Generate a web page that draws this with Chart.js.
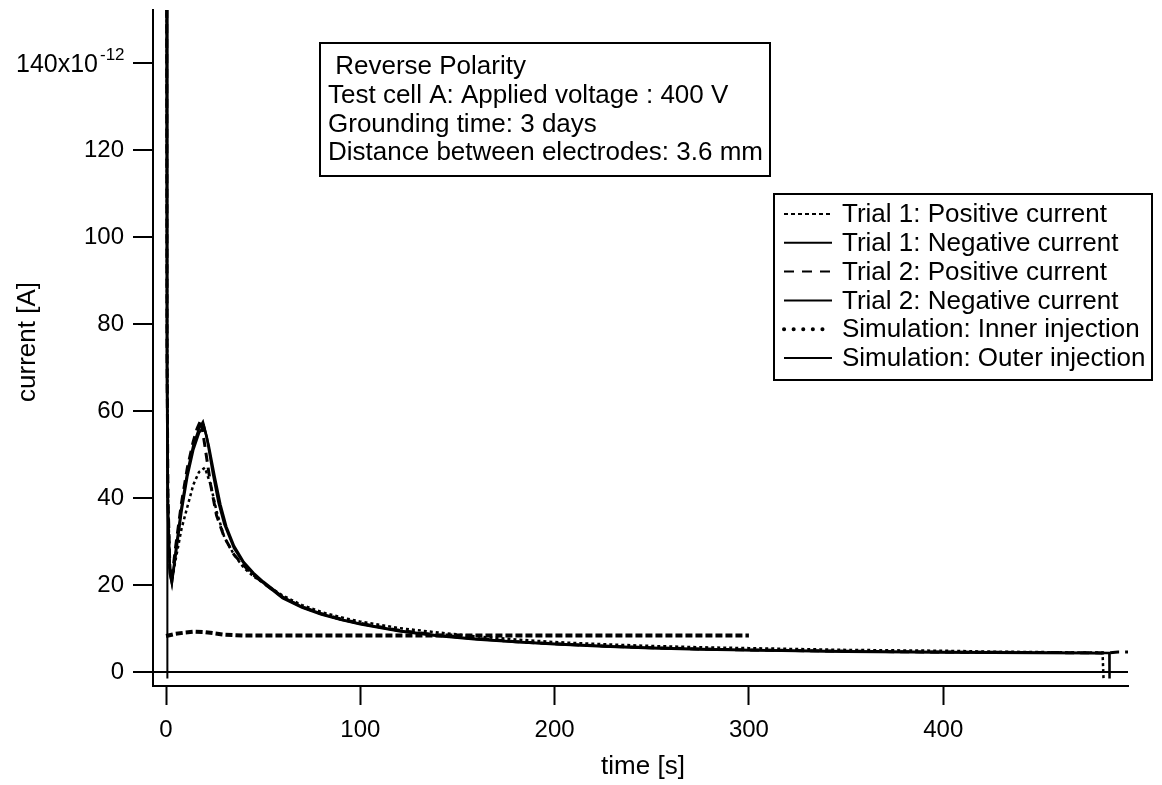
<!DOCTYPE html>
<html>
<head>
<meta charset="utf-8">
<script src="https://cdn.jsdelivr.net/npm/chart.js@4"></script>
<style>
  html, body { margin: 0; padding: 0; background: #fff; }
  #wrap { width: 1162px; height: 785px; }
</style>
</head>
<body>
<div id="wrap"><canvas id="chart"></canvas></div>
<script>
const fontFamily = '"Liberation Sans", Arial, sans-serif';

const xTicks = [0, 100, 200, 300, 400];
const yTicks = [0, 20, 40, 60, 80, 100, 120, 140];

const seriesLabels = [
  'Trial 1: Positive current',
  'Trial 1: Negative current',
  'Trial 2: Positive current',
  'Trial 2: Negative current',
  'Simulation: Inner injection',
  'Simulation: Outer injection'
];

const infoLines = [
  ' Reverse Polarity',
  'Test cell A: Applied voltage : 400 V',
  'Grounding time: 3 days',
  'Distance between electrodes: 3.6 mm'
];

// time in s, current in units of 1e-12 A
const trial1PosTime = [0, 0.5, 1, 2, 3, 5, 8, 11, 14, 17, 20, 23, 26, 30, 35, 40, 45, 50, 60, 70, 80, 90, 100, 120, 140, 160, 180, 200, 225, 250, 275, 300, 325, 350, 375, 400, 425, 450, 470, 482, 482.5];
const trial1PosCurrent = [350, 80, 40, 24, 21, 26, 33, 38, 43, 46, 47, 43, 37, 31, 27, 24, 22, 20.5, 17.6, 15.4, 13.8, 12.6, 11.6, 10.1, 9.1, 8.2, 7.5, 6.9, 6.4, 6.0, 5.7, 5.5, 5.3, 5.1, 5.0, 4.9, 4.7, 4.6, 4.5, 4.5, -1.5];

const trial1NegTime = [0, 0.5, 1, 2, 3, 5, 8, 11, 14, 17, 19, 21, 24, 27, 30, 35, 40, 45, 50, 60, 70, 80, 90, 100, 120, 140, 160, 180, 200, 225, 250, 275, 300, 350, 400, 450, 482];
const trial1NegCurrent = [400, 70, 38, 23, 20.5, 28, 38, 46, 52, 56, 57.5, 54, 46, 39, 34, 28.5, 25, 22.5, 20.5, 17, 14.8, 13.2, 12, 11, 9.4, 8.3, 7.5, 6.9, 6.4, 5.9, 5.5, 5.2, 5.0, 4.7, 4.5, 4.4, 4.3];

const trial2PosTime = [0, 0.5, 1, 2, 3, 5, 8, 11, 14, 16, 18, 20, 23, 26, 30, 35, 40, 45, 50, 60, 70, 80, 90, 100, 120, 140, 160, 180, 200, 225, 250, 275, 300, 350, 400, 450, 485, 490, 496];
const trial2PosCurrent = [380, 75, 40, 24, 21.5, 29, 39, 47, 53, 56, 58, 52, 43, 36, 31, 27, 24.5, 22.3, 20.5, 17.2, 15, 13.4, 12.2, 11.2, 9.6, 8.5, 7.7, 7.0, 6.5, 6.0, 5.6, 5.3, 5.1, 4.8, 4.6, 4.5, 4.4, 4.6, 4.6];

const trial2NegTime = [0, 0.5, 1, 2, 3, 5, 8, 11, 14, 17, 19.5, 22, 25, 28, 31, 35, 40, 45, 50, 60, 70, 80, 90, 100, 120, 140, 160, 180, 200, 225, 250, 275, 300, 350, 400, 450, 485.5, 485.6];
const trial2NegCurrent = [420, 65, 36, 22.5, 20.5, 27, 37, 45, 51, 55, 56.5, 52, 45, 38.5, 33.5, 29, 25.3, 22.8, 20.8, 17.3, 15, 13.4, 12.1, 11.1, 9.5, 8.4, 7.6, 7.0, 6.5, 6.0, 5.6, 5.3, 5.1, 4.8, 4.6, 4.5, 4.4, -1.5];

const simInnerTime = [0, 5, 10, 15, 20, 25, 30, 35, 40, 60, 100, 150, 200, 250, 300];
const simInnerCurrent = [8.3, 8.8, 9.1, 9.3, 9.2, 8.9, 8.6, 8.5, 8.4, 8.4, 8.4, 8.4, 8.4, 8.4, 8.4];

const simOuterTime = [0.6, 0.7];
const simOuterCurrent = [400, -1.5];

const toPoints = (ts, vs) => ts.map((t, i) => ({ x: t, y: vs[i] }));

const datasets = [
  { label: seriesLabels[0], data: toPoints(trial1PosTime, trial1PosCurrent), borderWidth: 2.5, borderDash: [3, 3], legendDash: [4, 3], legendWidth: 2 },
  { label: seriesLabels[1], data: toPoints(trial1NegTime, trial1NegCurrent), borderWidth: 2.5, borderDash: [], legendDash: [], legendWidth: 2 },
  { label: seriesLabels[2], data: toPoints(trial2PosTime, trial2PosCurrent), borderWidth: 3, borderDash: [9, 6], legendDash: [10, 8], legendWidth: 2 },
  { label: seriesLabels[3], data: toPoints(trial2NegTime, trial2NegCurrent), borderWidth: 2.5, borderDash: [], legendDash: [], legendWidth: 2 },
  { label: seriesLabels[4], data: toPoints(simInnerTime, simInnerCurrent), borderWidth: 4, borderDash: [7, 3], legendDash: [0.1, 9.5], legendWidth: 4, legendCap: 'round' },
  { label: seriesLabels[5], data: toPoints(simOuterTime, simOuterCurrent), borderWidth: 2, borderDash: [], legendDash: [], legendWidth: 2 }
].map(ds => Object.assign({ borderColor: '#000', pointRadius: 0, fill: false, tension: 0 }, ds));

// draws the info box, legend box, axis titles and the 140x10^-12 label
const notesPlugin = {
  id: 'notes',
  afterDraw(chart) {
    const ctx = chart.ctx;
    ctx.save();
    ctx.fillStyle = '#000';
    ctx.strokeStyle = '#000';
    ctx.font = '26px ' + fontFamily;
    ctx.textBaseline = 'middle';
    ctx.textAlign = 'left';

    // info box
    ctx.lineWidth = 2;
    ctx.setLineDash([]);
    ctx.strokeRect(320, 43, 450, 133);
    const infoY = [67, 96, 125, 153];
    infoLines.forEach((line, i) => ctx.fillText(line, 328, infoY[i]));

    // legend box
    ctx.strokeRect(774, 194, 378, 186);
    chart.data.datasets.forEach((ds, i) => {
      const y = 214 + i * 28.8;
      ctx.save();
      ctx.lineWidth = ds.legendWidth;
      ctx.lineCap = ds.legendCap || 'butt';
      ctx.setLineDash(ds.legendDash);
      ctx.beginPath();
      ctx.moveTo(784, y);
      ctx.lineTo(832, y);
      ctx.stroke();
      ctx.restore();
      ctx.fillText(ds.label, 842, y + 1);
    });

    // axis titles
    ctx.font = '26px ' + fontFamily;
    ctx.textAlign = 'center';
    ctx.fillText('time [s]', 643, 767);
    ctx.save();
    ctx.translate(28, 342);
    ctx.rotate(-Math.PI / 2);
    ctx.fillText('current [A]', 0, 0);
    ctx.restore();

    // top y label with exponent
    const yTop = chart.scales.y.getPixelForValue(140);
    ctx.font = '25px ' + fontFamily;
    ctx.textAlign = 'right';
    ctx.fillText('140x10', 98, yTop + 2);
    ctx.textAlign = 'left';
    ctx.font = '17px ' + fontFamily;
    ctx.fillText('-12', 100, yTop - 8);
    ctx.restore();
  }
};

const tickFont = { family: fontFamily, size: 24 };

new Chart(document.getElementById('chart'), {
  type: 'line',
  data: { datasets },
  options: {
    responsive: true,
    maintainAspectRatio: false,
    animation: false,
    layout: { padding: { left: 0, right: 34, top: 10, bottom: 0 } },
    plugins: { legend: { display: false }, tooltip: { enabled: false } },
    scales: {
      x: {
        type: 'linear',
        min: -6.7,
        max: 495.1,
        afterBuildTicks: s => { s.ticks = xTicks.map(v => ({ value: v })); },
        afterFit: s => { s.height = 99; s.paddingLeft = 0; s.paddingRight = 0; },
        border: { color: '#000', width: 2 },
        grid: { drawOnChartArea: false, tickLength: 19, tickWidth: 2, tickColor: '#000' },
        ticks: { color: '#000', font: tickFont, padding: 11, maxRotation: 0 }
      },
      y: {
        type: 'linear',
        min: -3.2,
        max: 152.2,
        afterBuildTicks: s => { s.ticks = yTicks.map(v => ({ value: v })); },
        afterFit: s => { s.width = 153; s.paddingTop = 0; s.paddingBottom = 0; },
        border: { color: '#000', width: 2 },
        grid: {
          drawOnChartArea: true,
          color: c => (c.tick && c.tick.value === 0 ? '#000' : 'rgba(0,0,0,0)'),
          lineWidth: 2,
          tickLength: 20,
          tickWidth: 2,
          tickColor: '#000'
        },
        ticks: { color: '#000', font: tickFont, padding: 9, callback: v => (v === 140 ? '' : v) }
      }
    }
  },
  plugins: [notesPlugin]
});
</script>
</body>
</html>
